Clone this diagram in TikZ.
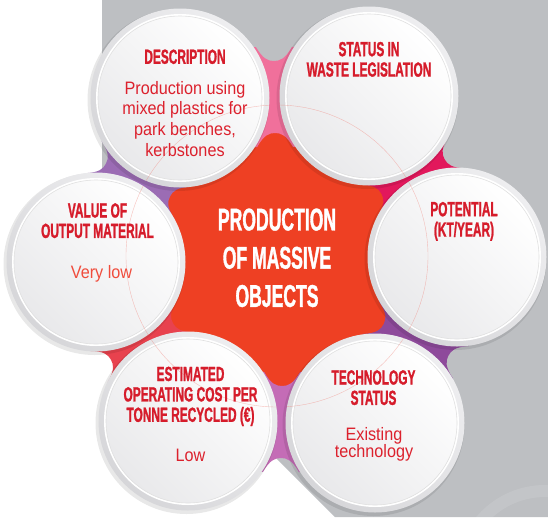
\documentclass[tikz,border=0pt]{standalone}
\usepackage{fontspec}
\usetikzlibrary{calc}
\newfontface\hdrfont[FakeStretch=0.58,FakeBold=1.1]{Liberation Sans Bold}
\newfontface\ctrfont[FakeStretch=0.56,FakeBold=1.1]{Liberation Sans Bold}
\newfontface\bodyfont[FakeStretch=0.9]{Liberation Sans}
\definecolor{bggray}{RGB}{189,191,194}
\definecolor{hdrred}{RGB}{214,28,43}
\definecolor{bodyred}{RGB}{220,33,45}
\definecolor{lowred}{RGB}{240,76,60}
\definecolor{starred}{RGB}{238,64,35}
\definecolor{cpink}{RGB}{240,112,155}
\definecolor{cmag}{RGB}{226,24,92}
\definecolor{cpurp}{RGB}{142,74,155}
\definecolor{corch}{RGB}{196,108,182}
\definecolor{ccoral}{RGB}{232,66,78}
\definecolor{clav}{RGB}{155,108,180}
\definecolor{ringlt}{RGB}{238,238,240}
\definecolor{ringdk}{RGB}{214,214,217}
\definecolor{diskgray}{RGB}{233,233,235}
\definecolor{cthin}{RGB}{240,120,110}
\tikzset{
  hdr/.style={font=\hdrfont\fontsize{20.5}{20.4}\selectfont, text=hdrred, align=center, inner sep=0pt, anchor=north},
  body/.style={font=\bodyfont\fontsize{18}{20.7}\selectfont, text=bodyred, align=center, inner sep=0pt, anchor=north},
  ctr/.style={font=\ctrfont\fontsize{31.4}{38.2}\selectfont, text=white, align=center, inner sep=0pt, anchor=north},
}
\begin{document}
\begin{tikzpicture}[x=1pt,y=-1pt]
\useasboundingbox (0,0) rectangle (548,517);
\fill[white] (0,0) rectangle (548,517);
% grey backdrop
\fill[bggray] (102,0) -- (548,0) -- (548,517) -- (335,517) -- (102,284) -- cycle;
\begin{scope}
  \clip (0,0) rectangle (548,517);
  \draw[white, opacity=0.10, line width=12pt] (545,575) circle (84);
\end{scope}
% circle centres
\coordinate (cDesc) at (180,98);
\coordinate (cStat) at (369,96);
\coordinate (cPot)  at (457,257);
\coordinate (cTech) at (375,423);
\coordinate (cEst)  at (188,421);
\coordinate (cLeft) at (96,262);
% central red star
\fill[starred] ($(cDesc)!0.5!(cStat)$) -- ($(cStat)!0.5!(cPot)$) -- ($(cPot)!0.5!(cTech)$)
  -- ($(cTech)!0.5!(cEst)$) -- ($(cEst)!0.5!(cLeft)$) -- ($(cLeft)!0.5!(cDesc)$) -- cycle;
% bow-tie connectors
\foreach \a/\b/\col in {cDesc/cStat/cpink, cStat/cPot/cmag, cPot/cTech/cpurp, cTech/cEst/corch, cEst/cLeft/ccoral, cLeft/cDesc/clav}{
  \coordinate (m) at ($(\a)!0.5!(\b)$);
  \pgfmathanglebetweenpoints{\pgfpointanchor{\a}{center}}{\pgfpointanchor{\b}{center}}
  \let\ang\pgfmathresult
  \begin{scope}[shift={(m)}, rotate=\ang]
    \fill[\col] (40,-50) -- (40,50) -- (18,50) .. controls (11,38) and (6,36) .. (0,36)
      .. controls (-6,36) and (-11,38) .. (-18,50) -- (-40,50) -- (-40,-50) -- (-18,-50)
      .. controls (-11,-38) and (-6,-36) .. (0,-36) .. controls (6,-36) and (11,-38) .. (18,-50) -- cycle;
  \end{scope}
}
% circles
\foreach \c in {cDesc, cStat, cPot, cTech, cEst, cLeft}{
  \fill[black, opacity=0.09] ($(\c)+(-1.5,2)$) circle (91);
  \shade[top color=ringlt, bottom color=ringdk, shading angle=-45] (\c) circle (89.5);
  \fill[white] (\c) circle (84);
  \shadedraw[top color=white, middle color=white, bottom color=diskgray, shading angle=-45, draw=black!12, line width=0.6pt] (\c) circle (82);
}
% faint guide ring over the circles
\begin{scope}
  \clip (cDesc) circle (89.5) (cStat) circle (89.5) (cPot) circle (89.5) (cTech) circle (89.5) (cEst) circle (89.5) (cLeft) circle (89.5);
  \draw[cthin, line width=0.4pt, opacity=0.45] (277,256) circle (151);
\end{scope}
% texts
\node[ctr] (tCtr) at (277,208.3) {PRODUCTION\\OF MASSIVE\\OBJECTS};
\node[hdr] (tDesc) at (185,49.3) {DESCRIPTION};
\node[body] (bDesc) at (185,81) {Production using\\mixed plastics for\\park benches,\\kerbstones};
\node[hdr] (tStat) at (369,41.7) {STATUS IN\\WASTE LEGISLATION};
\node[hdr] (tPot) at (464,201.7) {POTENTIAL\\(KT/YEAR)};
\node[hdr] (tVal) at (97.5,203) {VALUE OF\\OUTPUT MATERIAL};
\node[body, text=lowred, anchor=base] (bVal) at (101.5,278) {Very low};
\node[hdr] (tEst) at (190.5,366.5) {ESTIMATED\\OPERATING COST PER\\TONNE RECYCLED (€)};
\node[body, anchor=base] (bEst) at (190.5,461) {Low};
\node[hdr] (tTech) at (373.5,370) {TECHNOLOGY\\STATUS};
\node[body, font=\bodyfont\fontsize{18}{17}\selectfont] (bTech) at (374,427) {Existing\\technology};
\end{tikzpicture}
\end{document}
